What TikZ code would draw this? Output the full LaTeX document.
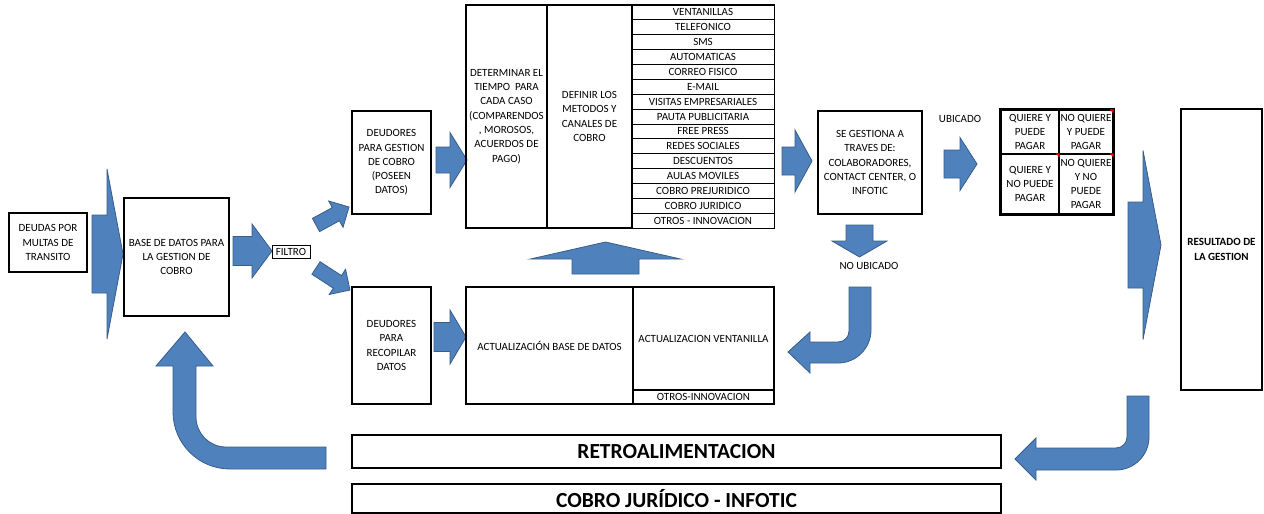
\documentclass[tikz,border=0pt]{standalone}
\usepackage{fontspec}
\setmainfont{Carlito}
\definecolor{arrowfill}{HTML}{4F81BD}
\definecolor{arrowdraw}{HTML}{385D8A}
\newcommand\myfs{\fontsize{11}{14.3}\selectfont}
\newcommand\mybigfs{\fontsize{21.5}{24}\selectfont\bfseries}
% block arrow: tail-centre x, y, angle, length, shaft half width, head half width, head length
\newcommand\barrow[7]{\path[blockarrow, shift={(#1,#2)}, rotate=#3] (0,{-#5}) -- ({#4-#7},{-#5}) -- ({#4-#7},{-#6}) -- (#4,0) -- ({#4-#7},#6) -- ({#4-#7},#5) -- (0,#5) -- cycle;}
\tikzset{
  box/.style={draw=black, line width=1.2pt, align=center, inner sep=0pt, font=\myfs, text=black},
  cell/.style={box, line width=0.9pt},
  thickbox/.style={box, line width=2.4pt},
  lbl/.style={font=\myfs, inner sep=0pt, text=black},
  blockarrow/.style={fill=arrowfill, draw=arrowdraw, line width=0.8pt, line join=miter},
}
\begin{document}
\begin{tikzpicture}[x=1pt,y=-1pt]
\useasboundingbox (0,0) rectangle (1264,514);
\fill[white] (0,0) rectangle (1264,514);

% ---- block arrows
\barrow{92}{254}{0}{31}{39}{85}{16}
\barrow{233}{251}{0}{39}{14.5}{27}{20}
\barrow{316}{225}{28.6}{37.6}{7.5}{15}{15}
\barrow{316}{268}{-33}{40.5}{7.5}{15}{15}
\barrow{436}{160}{0}{31}{13}{27.5}{17}
\barrow{434}{337}{0}{32}{14.5}{27}{16}
\barrow{605.5}{274}{90}{32}{33.5}{75}{17}
\barrow{782}{161}{0}{30}{14}{31}{17}
\barrow{859.5}{225}{-90}{32}{13.5}{27.5}{16}
\barrow{944}{164}{0}{33}{14}{26.5}{17}
\barrow{1128}{245}{0}{33}{43}{94.5}{18}

% curved arrow: no ubicado -> actualizacion
\path[blockarrow] (849,287) -- (871,287) -- (871,330) arc[start angle=0,end angle=90,radius=33]
  -- (810,363) -- (810,373) -- (788,352) -- (810,332) -- (810,342) -- (838,342)
  arc[start angle=90,end angle=0,radius=11] -- cycle;
% curved arrow: resultado -> retroalimentacion
\path[blockarrow] (1127,396) -- (1149,396) -- (1149,437) arc[start angle=0,end angle=90,radius=33]
  -- (1036,470) -- (1036,480) -- (1015,459) -- (1036,438) -- (1036,448) -- (1116,448)
  arc[start angle=90,end angle=0,radius=11] -- cycle;
% curved arrow: retroalimentacion -> base de datos
\path[blockarrow] (326,447) -- (326,469) -- (230,469) arc[start angle=90,end angle=180,radius=57]
  -- (173,366) -- (156,366) -- (185,332) -- (213,366) -- (196,366) -- (196,417)
  arc[start angle=180,end angle=90,radius=30] -- cycle;

% ---- boxes
\node[box, minimum width=78, minimum height=59] (deudas) at (48,242.5) {DEUDAS POR\\MULTAS DE\\TRANSITO};
\node[box, minimum width=105, minimum height=118] (base) at (176.5,257) {BASE DE DATOS PARA\\LA GESTION DE\\COBRO};
\node[box, line width=1pt, minimum width=38, minimum height=13] (filtro) at (291,251.5) {FILTRO};
\node[box, minimum width=79, minimum height=103] (gestion) at (391.5,162.5) {DEUDORES\\PARA GESTION\\DE COBRO\\(POSEEN\\DATOS)};
\node[box, minimum width=79, minimum height=117] (recopilar) at (391.5,345.5) {DEUDORES\\PARA\\RECOPILAR\\DATOS};
\node[box, minimum width=81, minimum height=223] (determinar) at (506.5,116.5) {DETERMINAR EL\\TIEMPO\ \ PARA\\CADA CASO\\(COMPARENDOS\\, MOROSOS,\\ACUERDOS DE\\PAGO)};
\node[box, minimum width=85, minimum height=223] (definir) at (589.5,116.5) {DEFINIR LOS\\METODOS Y\\CANALES DE\\COBRO};
\foreach \t [count=\i] in {VENTANILLAS,TELEFONICO,SMS,AUTOMATICAS,CORREO FISICO,E-MAIL,VISITAS EMPRESARIALES,PAUTA PUBLICITARIA,FREE PRESS,REDES SOCIALES,DESCUENTOS,AULAS MOVILES,COBRO PREJURIDICO,COBRO JURIDICO,OTROS - INNOVACION}
  \node[cell, minimum width=142, minimum height=14.87] (m\i) at (703,{5+14.87*\i-7.435}) {\t};
\draw[line width=1.2pt] (m1.north west) rectangle (m15.south east);

\node[box, minimum width=167, minimum height=117] (actbase) at (549.5,345.5) {ACTUALIZACIÓN BASE DE DATOS};
\node[box, minimum width=141, minimum height=103] (actvent) at (703.5,338.5) {ACTUALIZACION VENTANILLA};
\node[box, minimum width=141, minimum height=14] (otros) at (703.5,397) {OTROS-INNOVACION};

\node[box, minimum width=104, minimum height=103] (segestiona) at (870,162.5) {SE GESTIONA A\\TRAVES DE:\\COLABORADORES,\\CONTACT CENTER, O\\INFOTIC};
\node[lbl] (ubicado) at (960,119) {UBICADO};
\node[lbl] (noubicado) at (869,266) {NO UBICADO};

\node[cell, line width=1.2pt, minimum width=58, minimum height=44] (q1) at (1030,132) {QUIERE Y\\PUEDE\\PAGAR};
\node[cell, line width=1.2pt, minimum width=54, minimum height=44] (q2) at (1086,132) {NO QUIERE\\Y PUEDE\\PAGAR};
\node[cell, line width=1.2pt, minimum width=58, minimum height=60] (q3) at (1030,184) {QUIERE Y\\NO PUEDE\\PAGAR};
\node[cell, line width=1.2pt, minimum width=54, minimum height=60] (q4) at (1086,184) {NO QUIERE\\Y NO\\PUEDE\\PAGAR};
\draw[line width=2.4pt] (q1.north west) rectangle (q4.south east);
\fill[red] (q2.north east) -- ++(-4,0) -- ++(4,4) -- cycle;
\fill[red] (q3.north east) -- ++(-4,0) -- ++(4,4) -- cycle;
\fill[red] (q4.north east) -- ++(-4,0) -- ++(4,4) -- cycle;

\node[thickbox, minimum width=81, minimum height=281, font=\myfs\bfseries] (resultado) at (1221.5,249.5) {RESULTADO DE\\LA GESTION};

\node[box, line width=1.5pt, minimum width=649, minimum height=33, font=\mybigfs] (retro) at (676.5,451.5) {RETROALIMENTACION};
\node[box, line width=1.5pt, minimum width=649, minimum height=29, font=\mybigfs] (cobro) at (676.5,498.5) {COBRO JURÍDICO - INFOTIC};
\end{tikzpicture}
\end{document}
